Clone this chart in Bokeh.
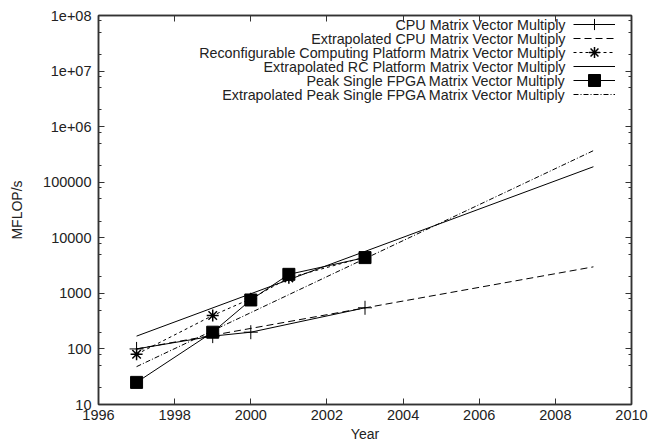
import math
from bokeh.plotting import figure
from bokeh.models import (LinearAxis, LogAxis, FixedTicker, Legend, LegendItem,
                          Label, Range1d, CustomJSTickFormatter)
from bokeh.core.properties import value
from bokeh.embed import file_html
from bokeh.resources import INLINE

# ---------------- data ----------------
cpu_years = [1997, 1999, 2000, 2003]
cpu_vals = [100, 170, 200, 550]
cpu_ext_years = [1997, 2009]
cpu_ext_vals = [100, 3000]

rc_years = [1997, 1999, 2000, 2001, 2003]
rc_vals = [80, 400, 800, 1900, 4500]
rc_ext_years = [1997, 2009]
rc_ext_vals = [170, 190000]

fpga_years = [1997, 1999, 2000, 2001, 2003]
fpga_vals = [25, 200, 760, 2200, 4400]
fpga_ext_years = [1997, 2009]
fpga_ext_vals = [48, 370000]

x_ticks = [1996, 1998, 2000, 2002, 2004, 2006, 2008, 2010]
y_ticks = [10, 100, 1000, 10000, 100000, 1000000, 10000000, 100000000]
y_tick_labels = ["10", "100", "1000", "10000", "100000", "1e+06", "1e+07", "1e+08"]
y_minor = [m * t for t in y_ticks[:-1] for m in (2, 5, 8)]

legend_labels = [
    "CPU Matrix Vector Multiply",
    "Extrapolated CPU Matrix Vector Multiply",
    "Reconfigurable Computing Platform Matrix Vector Multiply",
    "Extrapolated RC Platform Matrix Vector Multiply",
    "Peak Single FPGA Matrix Vector Multiply",
    "Extrapolated Peak Single FPGA Matrix Vector Multiply",
]

FONT = "Liberation Sans"
TXT = "#222222"

X0, X1 = 1996, 2010
Y0, Y1 = 10, 1e8

# frame geometry (canvas pixels)
FL, FR, FT, FB = 98, 631, 15, 405
W, H = 657, 444

p = figure(width=W, height=H, x_range=Range1d(X0, X1), y_range=Range1d(Y0, Y1),
           y_axis_type="log", output_backend="svg", toolbar_location=None,
           min_border_left=FL, min_border_right=W - FR, min_border_top=FT,
           min_border_bottom=H - FB)
p.grid.visible = False
p.outline_line_color = "#333333"
p.outline_line_width = 1.5
p.background_fill_color = "white"
p.border_fill_color = "white"

# main axes
xa = p.xaxis[0]
ya = p.yaxis[0]
xa.ticker = FixedTicker(ticks=x_ticks)
ya.ticker = FixedTicker(ticks=y_ticks, minor_ticks=y_minor)
ya.major_label_overrides = {t: l for t, l in zip(y_ticks, y_tick_labels)}
xa.axis_label = "Year"
ya.axis_label = "MFLOP/s"

# mirror axes (ticks only)
blank = CustomJSTickFormatter(code="return ''")
ta = LinearAxis(ticker=FixedTicker(ticks=x_ticks), formatter=blank)
ra = LogAxis(ticker=FixedTicker(ticks=y_ticks, minor_ticks=y_minor), formatter=blank)
p.add_layout(ta, "above")
p.add_layout(ra, "right")

for ax in (xa, ya, ta, ra):
    ax.axis_line_color = "#333333"
    ax.axis_line_width = 1.5
    ax.major_tick_in = 6
    ax.major_tick_out = 0
    ax.minor_tick_in = 3
    ax.minor_tick_out = 0
    ax.major_tick_line_color = "#333333"
    ax.minor_tick_line_color = "#333333"
    ax.major_label_text_font = FONT
    ax.major_label_text_font_size = "14.5px"
    ax.major_label_text_color = TXT
    ax.axis_label_text_font = FONT
    ax.axis_label_text_font_size = "14px"
    ax.axis_label_text_font_style = "normal"
    ax.axis_label_text_color = TXT

for ax in (xa, ta):
    ax.minor_tick_line_color = None
for ax in (ta, ra):
    ax.major_label_standoff = 0
xa.major_label_standoff = 5
xa.axis_label_standoff = 3
ya.major_label_standoff = 7
ya.axis_label_standoff = 15

# ---------------- series ----------------
lw = 1.0
r_cpu_l = p.line(cpu_years, cpu_vals, line_color="black", line_width=lw)
r_cpu_m = p.scatter(cpu_years, cpu_vals, marker="cross", size=14, line_color="black", line_width=1)
r_cpu_e = p.line(cpu_ext_years, cpu_ext_vals, line_color="black", line_width=lw, line_dash="7 4")

r_rc_l = p.line(rc_years, rc_vals, line_color="black", line_width=lw, line_dash="3 3")
r_rc_m = p.scatter(rc_years, rc_vals, marker="asterisk", size=12, line_color="black", line_width=1.5)
r_rc_e = p.line(rc_ext_years, rc_ext_vals, line_color="black", line_width=lw)

r_fp_l = p.line(fpga_years, fpga_vals, line_color="black", line_width=lw)
r_fp_m = p.scatter(fpga_years, fpga_vals, marker="square", size=12, fill_color="black",
                   line_color="black")
r_fp_e = p.line(fpga_ext_years, fpga_ext_vals, line_color="black", line_width=lw, line_dash="5 2 1 2")

groups = [[r_cpu_l, r_cpu_m], [r_cpu_e], [r_rc_l, r_rc_m], [r_rc_e], [r_fp_l, r_fp_m], [r_fp_e]]
# legend marker size = 0.4 * glyph box height -> per-row box heights
row_glyph_h = [28, 14, 28, 14, 30, 14]

# legend: samples on the right, right-aligned text on the left (gnuplot style)
row0_c, row_step = 25, 14
sample_left = 573
sample_w = 42
px_per_year = (FR - FL) / (X1 - X0)
px_per_dec = (FB - FT) / (math.log10(Y1) - math.log10(Y0))
text_x = X0 + (sample_left - 8 - FL) / px_per_year

for i, (g, lab, gh) in enumerate(zip(groups, legend_labels, row_glyph_h)):
    yc = row0_c + row_step * i
    lg = Legend(items=[LegendItem(label=value(" "), renderers=g)],
                location=(sample_left - FL, FB - (yc + gh / 2)),
                glyph_width=sample_w, glyph_height=gh, spacing=0, padding=0, margin=0,
                label_width=1, label_standoff=0, label_text_font_size="8px",
                border_line_color=None, background_fill_alpha=0)
    p.add_layout(lg)
    ty = 10 ** (math.log10(Y1) - (yc - FT) / px_per_dec)
    p.add_layout(Label(x=text_x, y=ty, text=lab, text_align="right", text_baseline="middle",
                       text_font=FONT, text_font_size="14.3px", text_color=TXT))

open("out.html", "w").write(file_html(p, INLINE))
